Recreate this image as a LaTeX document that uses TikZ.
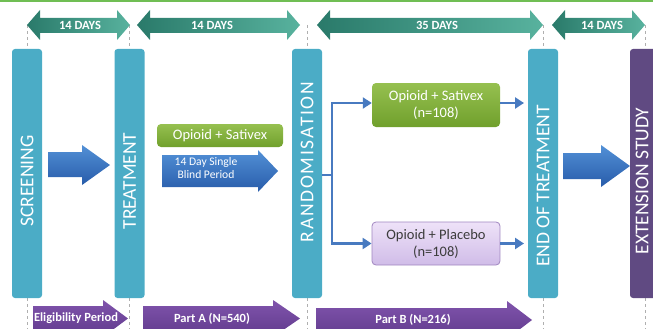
\documentclass[tikz,border=0pt]{standalone}
\usepackage{fontspec}
\setmainfont{Carlito}
\newfontfamily\spacedfont[LetterSpace=9]{Carlito}
\usetikzlibrary{arrows.meta}
\definecolor{barteal}{RGB}{75,172,198}
\definecolor{extpurple}{RGB}{96,74,130}
\definecolor{topgreen}{RGB}{112,190,84}
\definecolor{daysdark}{RGB}{42,122,106}
\definecolor{dayslight}{RGB}{88,178,158}
\definecolor{parttop}{RGB}{128,84,172}
\definecolor{partbot}{RGB}{96,58,140}
\definecolor{bluetop}{RGB}{82,144,214}
\definecolor{bluebot}{RGB}{40,92,170}
\definecolor{greentop}{RGB}{150,192,80}
\definecolor{greenbot}{RGB}{112,160,44}
\definecolor{lavtop}{RGB}{238,226,248}
\definecolor{lavbot}{RGB}{208,188,232}
\definecolor{lavedge}{RGB}{160,134,192}
\definecolor{conblue}{RGB}{72,122,192}
\definecolor{dashgrey}{RGB}{175,175,175}
\definecolor{darktext}{RGB}{60,60,60}
\tikzset{
  barbox/.style={rounded corners=3pt, minimum width=30pt, minimum height=249pt, inner sep=0pt, outer sep=0pt},
  barlabel/.style={rotate=90, text=white, inner sep=0pt, font=\fontsize{19.5}{21}\selectfont},
  dayslabel/.style={text=white, inner sep=0pt, font=\bfseries\fontsize{12.5}{14}\selectfont},
  partlabel/.style={text=white, inner sep=0pt, font=\bfseries\fontsize{12.5}{14}\selectfont},
  daysarrow/.style={left color=daysdark, right color=dayslight},
  partarrow/.style={top color=parttop, bottom color=partbot},
  bigblue/.style={top color=bluetop, bottom color=bluebot},
  guide/.style={draw=dashgrey, dashed, line width=1pt},
  conn/.style={draw=conblue, line width=2.4pt},
  connarrow/.style={conn, -{Triangle[length=9pt,width=11pt]}},
  armbox/.style={rounded corners=4pt, minimum width=128pt, inner sep=0pt, align=center, font=\fontsize{14.5}{17}\selectfont}
}
\begin{document}
\begin{tikzpicture}[x=1pt,y=-1pt]
\useasboundingbox (0,0) rectangle (653,329);
\clip (0,0) rectangle (653,329);
% top green line
\fill[topgreen] (0,0) rectangle (653,2.2);

% dashed guides
\draw[guide] (27,25) -- (27,49) (27,298) -- (27,329);
\draw[guide] (129.5,25) -- (129.5,49) (129.5,298) -- (129.5,329);
\draw[guide] (307,25) -- (307,49) (307,298) -- (307,329);
\draw[guide] (543,25) -- (543,49) (543,298) -- (543,329);
\draw[guide] (645,25) -- (645,49) (645,298) -- (645,329);

% bars
\node[barbox, fill=barteal] (scr) at (27,173.5) {};
\node[barbox, fill=barteal] (trt) at (129.5,173.5) {};
\node[barbox, fill=barteal] (rnd) at (307,173.5) {};
\node[barbox, fill=barteal] (eot) at (543,173.5) {};
\node[barbox, fill=extpurple] (ext) at (645,173.5) {};
\node[barlabel] (scrl) at (27,181) {SCREENING};
\node[barlabel] (trtl) at (129.5,181) {TREATMENT};
\node[barlabel, font=\spacedfont\fontsize{19.5}{21}\selectfont] (rndl) at (307,162) {RANDOMISATION};
\node[barlabel] (eotl) at (543,186) {END OF TREATMENT};
\node[barlabel] (extl) at (642,181) {EXTENSION STUDY};

% top double arrows
\path[daysarrow] (27,25) -- (40,10) -- (40,18) -- (117,18) -- (117,10) -- (130,25) -- (117,40) -- (117,33) -- (40,33) -- (40,40) -- cycle;
\path[daysarrow] (137,25) -- (150,10) -- (150,18) -- (287,18) -- (287,10) -- (300,25) -- (287,40) -- (287,33) -- (150,33) -- (150,40) -- cycle;
\path[daysarrow] (317,25) -- (330,10) -- (330,18) -- (530,18) -- (530,10) -- (543,25) -- (530,40) -- (530,33) -- (330,33) -- (330,40) -- cycle;
\path[daysarrow] (552,25) -- (565,10) -- (565,18) -- (632,18) -- (632,10) -- (645,25) -- (632,40) -- (632,33) -- (565,33) -- (565,40) -- cycle;
\node[dayslabel] (d1) at (80,25) {14 DAYS};
\node[dayslabel] (d2) at (212,25) {14 DAYS};
\node[dayslabel] (d3) at (437,25) {35 DAYS};
\node[dayslabel] (d4) at (602,25) {14 DAYS};

% bottom purple arrows
\path[partarrow] (33,306) -- (103,306) -- (103,300) -- (128,318.5) -- (103,337) -- (103,331) -- (33,331) -- cycle;
\path[partarrow] (143,306) -- (273,306) -- (273,300) -- (300,318.5) -- (273,337) -- (273,331) -- (143,331) -- cycle;
\path[partarrow] (316,308) -- (507,308) -- (507,301) -- (532,320) -- (507,339) -- (507,332) -- (316,332) -- cycle;
\node[partlabel] (p0) at (76,318.5) {Eligibility Period};
\node[partlabel] (pa) at (212,318.5) {Part A (N=540)};
\node[partlabel] (pb) at (413,320) {Part B (N=216)};

% big blue arrows
\path[bigblue] (48,152) -- (82,152) -- (82,145) -- (110,165) -- (82,185) -- (82,177) -- (48,177) -- cycle;
\path[bigblue] (563,153) -- (601,153) -- (601,145) -- (630,166) -- (601,187) -- (601,179) -- (563,179) -- cycle;

% treatment phase
\node[armbox, top color=greentop, bottom color=greenbot, minimum width=126pt, minimum height=23pt, text=white] (sat0) at (220,135.5) {Opioid + Sativex};
\path[bigblue] (162,155) -- (258,155) -- (258,150) -- (278,171) -- (258,192) -- (258,187) -- (162,187) -- cycle;
\node[text=white, inner sep=0pt, align=center, font=\fontsize{11.6}{12.5}\selectfont] (blind) at (206,168) {14 Day Single\\Blind Period};

% randomised arms
\node[armbox, top color=greentop, bottom color=greenbot, minimum height=44pt, text=white] (sat) at (436,105) {Opioid + Sativex\\(n=108)};
\node[armbox, top color=lavtop, bottom color=lavbot, draw=lavedge, line width=0.8pt, minimum height=43pt, text=darktext] (pla) at (436,243.5) {Opioid + Placebo\\(n=108)};

\coordinate (split) at (332,175);
\draw[conn] (rnd.east |- split) -- (split);
\draw[connarrow] (split) |- (sat.west |- 0,103);
\draw[connarrow] (split) |- (pla.west);
\coordinate (o1) at (524,103);
\coordinate (o2) at (524,243.5);
\draw[connarrow] (sat.east |- o1) -- (o1);
\draw[connarrow] (pla.east) -- (o2);
\end{tikzpicture}
\end{document}
